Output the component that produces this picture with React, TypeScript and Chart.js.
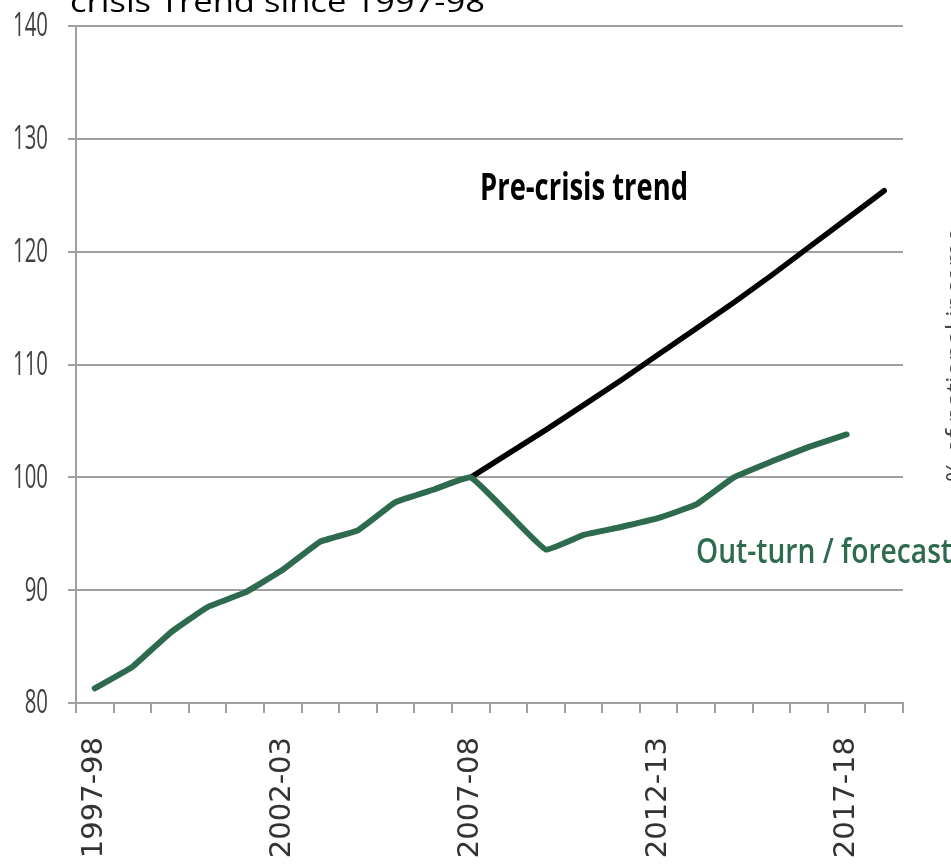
import React, { useEffect, useRef } from "react";
import { Chart, registerables } from "chart.js";

Chart.register(...registerables);

// ---- data ----
const categories = [
  "1997-98", "1998-99", "1999-00", "2000-01", "2001-02", "2002-03",
  "2003-04", "2004-05", "2005-06", "2006-07", "2007-08", "2008-09",
  "2009-10", "2010-11", "2011-12", "2012-13", "2013-14", "2014-15",
  "2015-16", "2016-17", "2017-18", "2018-19",
];
const labelledCategories = ["1997-98", "2002-03", "2007-08", "2012-13", "2017-18"];

const outturnValues = [
  81.3, 83.2, 86.2, 88.5, 89.8, 91.8, 94.3, 95.3, 97.8, 98.9, 100.0,
  96.8, 93.6, 94.9, 95.6, 96.4, 97.6, 100.0, 101.4, 102.7, 103.8, null,
];
const trendValues = [
  null, null, null, null, null, null, null, null, null, null, 100.0,
  102.1, 104.2, 106.4, 108.6, 110.9, 113.2, 115.5, 117.9, 120.4, 122.9, 125.4,
];

const yMin = 80;
const yMax = 140;
const yStep = 10;

const titleText = "crisis Trend since 1997-98";
const trendLabel = "Pre-crisis trend";
const outturnLabel = "Out-turn / forecast";
const sideLabel = "% of national income";

const GREEN = "#2e6a4e";
const GRID = "#a0a0a0";

function fitText(
  ctx: CanvasRenderingContext2D,
  text: string,
  x: number,
  y: number,
  font: string,
  color: string,
  width: number
) {
  ctx.save();
  ctx.font = font;
  const w = ctx.measureText(text).width;
  ctx.translate(x, y);
  ctx.scale(width / w, 1);
  ctx.fillStyle = color;
  ctx.textAlign = "left";
  ctx.textBaseline = "alphabetic";
  ctx.fillText(text, 0, 0);
  ctx.restore();
}

const annotationPlugin = {
  id: "annotations",
  afterDraw(chart: any) {
    const ctx: CanvasRenderingContext2D = chart.ctx;
    const ys = chart.scales.y;

    // y tick labels (condensed)
    ctx.save();
    ctx.font = '33px "Open Sans"';
    const sc = 35 / ctx.measureText("140").width;
    ys.ticks.forEach((t: any) => {
      const py = ys.getPixelForValue(t.value);
      ctx.save();
      ctx.translate(48, py + 1);
      ctx.scale(sc, 1);
      ctx.textAlign = "right";
      ctx.textBaseline = "middle";
      ctx.fillStyle = "#404040";
      ctx.fillText(String(t.value), 0, 0);
      ctx.restore();
    });
    ctx.restore();

    // clipped title
    fitText(ctx, titleText, 70, 12, '29px "Open Sans"', "#000", 415);

    // series labels
    fitText(ctx, trendLabel, 480, 200, 'bold 38px "Open Sans"', "#000", 208);
    fitText(ctx, outturnLabel, 696, 563, '600 35px "Open Sans"', GREEN, 256);

    // side label (clipped at the right edge)
    ctx.save();
    ctx.font = '26px "Open Sans"';
    ctx.translate(964, 482);
    ctx.rotate(-Math.PI / 2);
    ctx.fillStyle = "#444";
    ctx.textAlign = "left";
    ctx.textBaseline = "alphabetic";
    ctx.fillText(sideLabel, 0, 0);
    ctx.restore();
  },
};

export default function App() {
  const ref = useRef<HTMLCanvasElement | null>(null);

  useEffect(() => {
    document.body.style.margin = "0";
    document.body.style.overflow = "hidden";
    const canvas = ref.current;
    if (!canvas) return;
    const chart = new Chart(canvas, {
      type: "line",
      data: {
        labels: categories,
        datasets: [
          {
            label: outturnLabel,
            data: outturnValues,
            borderColor: GREEN,
            borderWidth: 6,
            pointRadius: 0,
            tension: 0.1,
            borderCapStyle: "round",
            borderJoinStyle: "round",
            spanGaps: false,
          },
          {
            label: trendLabel,
            data: trendValues,
            borderColor: "#000",
            borderWidth: 5.5,
            pointRadius: 0,
            tension: 0,
            borderCapStyle: "round",
            borderJoinStyle: "round",
          },
        ],
      },
      options: {
        responsive: false,
        animation: false,
        devicePixelRatio: 1,
        layout: { padding: { top: 26, right: 48, left: 0, bottom: 0 } },
        plugins: {
          legend: { display: false },
          title: { display: false },
          tooltip: { enabled: false },
        },
        scales: {
          x: {
            type: "category",
            offset: true,
            afterFit: (s: any) => {
              s.height = 164;
            },
            grid: {
              offset: true,
              drawOnChartArea: false,
              drawTicks: true,
              tickLength: 10,
              color: GRID,
              lineWidth: 2,
            },
            border: { display: true, color: GRID, width: 2 },
            ticks: {
              autoSkip: false,
              maxRotation: 90,
              minRotation: 90,
              padding: 24,
              color: "#333333",
              font: { family: '"DejaVu Sans"', size: 29, weight: "normal" },
              callback: (_v: any, i: number) =>
                labelledCategories.includes(categories[i]) ? categories[i] : "",
            },
          },
          y: {
            min: yMin,
            max: yMax,
            afterFit: (s: any) => {
              s.width = 76;
            },
            grid: {
              drawTicks: true,
              tickLength: 8,
              color: GRID,
              lineWidth: 2,
            },
            border: { display: true, color: GRID, width: 2 },
            ticks: {
              display: false,
              stepSize: yStep,
            },
          },
        },
      },
      plugins: [annotationPlugin],
    });
    return () => chart.destroy();
  }, []);

  return (
    <div style={{ width: 951, height: 867, position: "relative" }}>
      <canvas ref={ref} width={951} height={867} style={{ display: "block" }} />
    </div>
  );
}
